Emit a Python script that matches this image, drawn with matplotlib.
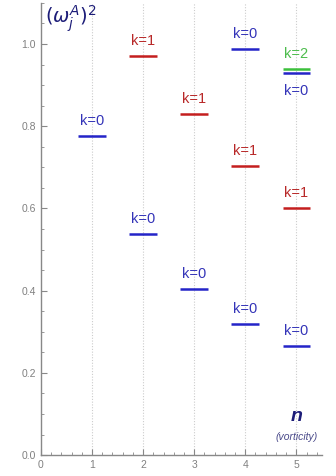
import matplotlib
matplotlib.use("Agg")
import matplotlib.pyplot as plt
from matplotlib.ticker import MultipleLocator

plt.rcParams["font.family"] = ["Liberation Sans", "DejaVu Sans"]
plt.rcParams["mathtext.fontset"] = "dejavusans"

# energy levels per vorticity n
vorticity = [1, 2, 2, 3, 3, 4, 4, 4, 5, 5, 5, 5]
k_values = [0, 1, 0, 1, 0, 0, 1, 0, 2, 0, 1, 0]
omega_sq = [0.777, 0.971, 0.537, 0.830, 0.403, 0.988, 0.702, 0.319, 0.940, 0.929, 0.601, 0.265]
label_below = [False, False, False, False, False, False, False, False, False, True, False, False]

line_colors = {0: "#2424c8", 1: "#c41e1e", 2: "#3cc03c"}
text_colors = {0: "#3434b8", 1: "#b82828", 2: "#4cbc4c"}
axis_grey = "#888888"
navy = "#1c1c78"

fig = plt.figure(figsize=(3.36, 4.76), dpi=100)
ax = fig.add_axes([0.122, 0.044, 0.836, 0.950])

half = 0.27
for n, k, w, below in zip(vorticity, k_values, omega_sq, label_below):
    ax.hlines(w, n - half, n + half, color=line_colors[k], linewidth=1.8)
    ax.annotate(
        f"k={k}",
        xy=(n, w),
        xytext=(0, -16 if below else 8),
        textcoords="offset points",
        ha="center",
        va="baseline",
        fontsize=10.5,
        color=text_colors[k],
    )

for n in range(1, 6):
    ax.axvline(n, color="#cccccc", linestyle=(0, (1, 1.5)), linewidth=0.8, zorder=0)

ax.set_xlim(0, 5.5)
ax.set_ylim(0, 1.1)
ax.xaxis.set_major_locator(MultipleLocator(1))
ax.xaxis.set_minor_locator(MultipleLocator(0.2))
ax.yaxis.set_major_locator(MultipleLocator(0.2))
ax.yaxis.set_minor_locator(MultipleLocator(0.05))
ax.set_yticks([0.0, 0.2, 0.4, 0.6, 0.8, 1.0])
ax.set_yticklabels(["0.0", "0.2", "0.4", "0.6", "0.8", "1.0"])

for side in ["top", "right"]:
    ax.spines[side].set_visible(False)
for side in ["left", "bottom"]:
    ax.spines[side].set_color(axis_grey)
    ax.spines[side].set_linewidth(1.0)

ax.tick_params(which="both", direction="in", colors=axis_grey, labelsize=7.5, labelcolor="#808080")
ax.tick_params(which="major", length=4, width=0.8)
ax.tick_params(which="minor", length=2, width=0.6)

ax.text(0.07, 1.098, r"$(\omega_j^A)^2$", color=navy, fontsize=14, ha="left", va="top")
ax.text(5.0, 0.093, "n", color=navy, fontsize=14, fontweight="bold", fontstyle="italic",
        ha="center", va="center")
ax.text(5.0, 0.044, "(vorticity)", color="#4a4a8a", fontsize=7.5, fontstyle="italic",
        ha="center", va="center")

fig.savefig("out.png", dpi=100)
